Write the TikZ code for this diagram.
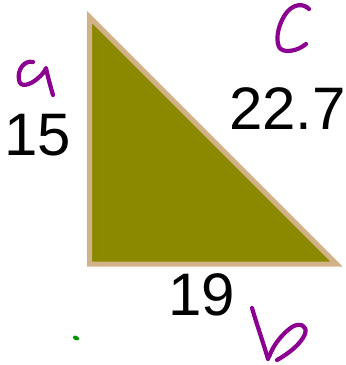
\documentclass[tikz,border=0pt]{standalone}
\usepackage{fontspec}
\setmainfont{Liberation Sans}
\definecolor{olivefill}{RGB}{139,137,0}
\definecolor{tanedge}{RGB}{210,178,136}
\definecolor{inkpurple}{RGB}{140,0,145}
\definecolor{inkgreen}{RGB}{0,150,0}
\begin{document}
\begin{tikzpicture}[x=1pt,y=-1pt,
  side/.style={font=\fontsize{60}{60}\selectfont, inner sep=0pt, text=black},
  hand/.style={draw=inkpurple, line width=4.2pt, line cap=round, line join=round}]
\useasboundingbox (0,0) rectangle (346,365);
\coordinate (A) at (89.5,17);
\coordinate (B) at (89.5,264);
\coordinate (C) at (336.5,264);
\draw[fill=olivefill, draw=tanedge, line width=5pt, line join=miter] (A) -- (B) -- (C) -- cycle;
\node[side] (la) at (37.5,135) {15};
\node[side] (lc) at (287.5,109) {22.7};
\node[side] (lb) at (202,295) {19};
% handwritten a
\draw[hand] (33,62) .. controls (24,60) and (17,70) .. (19,80)
  .. controls (20,88) and (30,85) .. (37,79)
  .. controls (42,75) and (45,71) .. (46,68)
  .. controls (48,78) and (51,88) .. (53,95);
% handwritten c
\draw[hand] (309,9) .. controls (303,3) and (294,4) .. (287,12)
  .. controls (279,22) and (275,38) .. (279,47)
  .. controls (283,54) and (298,51) .. (306,44);
% handwritten b
\draw[hand] (252,308) .. controls (257,325) and (263,342) .. (268,359);
\draw[hand] (269,357) .. controls (273,345) and (283,333) .. (292,327)
  .. controls (300,322) and (308,326) .. (305,334)
  .. controls (301,344) and (288,354) .. (277,360);
% green dot
\fill[inkgreen, rotate around={-25:(76,338)}] (76,338) ellipse (3.2 and 2.2);
\end{tikzpicture}
\end{document}
